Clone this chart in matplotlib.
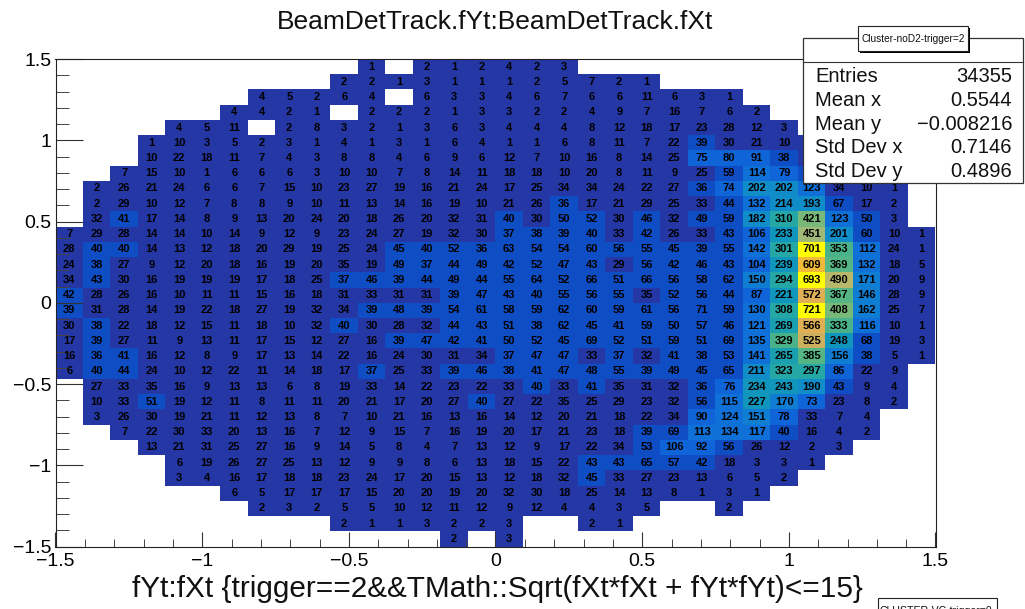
import numpy as np
import matplotlib
matplotlib.use("Agg")
import matplotlib.pyplot as plt
from matplotlib.colors import ListedColormap, BoundaryNorm
from matplotlib.patches import Rectangle

plt.rcParams['font.family'] = ['Liberation Sans', 'DejaVu Sans']

# first filled x bin of each y row (top row first), then the bin contents
first_bin = [11, 10, 7, 6, 4, 3, 3, 2, 1, 1, 1, 0, 0, 0, 0, 0,
             0, 0, 0, 0, 0, 1, 1, 1, 2, 3, 4, 4, 6, 7, 10, 14]
counts = [
    [1, 0, 2, 1, 2, 4, 2, 3],
    [2, 2, 1, 3, 1, 1, 1, 2, 5, 7, 2, 1],
    [4, 5, 2, 6, 4, 0, 6, 3, 3, 4, 6, 7, 6, 6, 11, 6, 3, 1],
    [4, 4, 2, 1, 0, 2, 2, 2, 1, 3, 3, 2, 2, 4, 9, 7, 16, 7, 6, 2],
    [4, 5, 11, 0, 2, 8, 3, 2, 1, 3, 6, 3, 4, 4, 4, 8, 12, 18, 17, 23, 28, 12, 3],
    [1, 10, 3, 5, 2, 3, 1, 4, 1, 3, 1, 6, 4, 1, 1, 6, 8, 11, 7, 22, 39, 30, 21, 10, 5],
    [10, 22, 18, 11, 7, 4, 3, 8, 8, 4, 6, 9, 6, 12, 7, 10, 16, 8, 14, 25, 75, 80, 91, 38, 20],
    [7, 15, 10, 1, 6, 6, 6, 3, 10, 10, 7, 8, 14, 11, 18, 18, 10, 20, 8, 11, 9, 25, 59, 114, 79, 45],
    [2, 26, 21, 24, 6, 6, 7, 15, 10, 23, 27, 19, 16, 21, 24, 17, 25, 34, 34, 24, 22, 27, 36, 74, 202, 202, 123, 34, 10, 1],
    [2, 29, 10, 12, 7, 8, 8, 9, 10, 11, 13, 14, 16, 19, 10, 21, 26, 36, 17, 21, 29, 25, 33, 44, 132, 214, 193, 67, 17, 2],
    [32, 41, 17, 14, 8, 9, 13, 20, 24, 20, 18, 26, 20, 32, 31, 40, 30, 50, 52, 30, 46, 32, 49, 59, 182, 310, 421, 123, 50, 3],
    [7, 29, 28, 14, 14, 10, 14, 9, 12, 9, 23, 24, 27, 19, 32, 30, 37, 38, 39, 40, 33, 42, 26, 33, 43, 106, 233, 451, 201, 60, 10, 1],
    [28, 40, 40, 14, 13, 12, 18, 20, 29, 19, 25, 24, 45, 40, 52, 36, 63, 54, 54, 60, 56, 55, 45, 39, 55, 142, 301, 701, 353, 112, 24, 1],
    [24, 38, 27, 9, 12, 20, 18, 16, 19, 20, 35, 19, 49, 37, 44, 49, 42, 52, 47, 43, 29, 56, 42, 46, 43, 104, 239, 609, 369, 132, 18, 5],
    [34, 43, 30, 16, 19, 19, 19, 17, 18, 25, 37, 46, 39, 44, 49, 44, 55, 64, 52, 66, 51, 66, 56, 58, 62, 150, 294, 693, 490, 171, 20, 9],
    [42, 28, 26, 16, 10, 11, 11, 15, 16, 18, 31, 33, 31, 31, 39, 47, 43, 40, 55, 56, 55, 35, 52, 56, 44, 87, 221, 572, 367, 146, 28, 9],
    [39, 31, 28, 14, 19, 22, 18, 27, 19, 32, 34, 39, 48, 39, 54, 61, 58, 59, 62, 60, 59, 61, 56, 71, 59, 130, 308, 721, 408, 162, 25, 7],
    [30, 38, 22, 18, 12, 15, 11, 18, 10, 32, 40, 30, 28, 32, 44, 43, 51, 38, 62, 45, 41, 59, 50, 57, 46, 121, 269, 566, 333, 116, 10, 1],
    [17, 39, 27, 11, 9, 13, 11, 17, 15, 12, 27, 16, 39, 47, 42, 41, 50, 52, 45, 69, 52, 51, 59, 51, 69, 135, 329, 525, 248, 68, 19, 3],
    [16, 36, 41, 16, 12, 8, 9, 17, 13, 14, 22, 16, 24, 30, 31, 34, 37, 47, 47, 33, 37, 32, 41, 38, 53, 141, 265, 385, 156, 38, 5, 1],
    [6, 40, 44, 24, 10, 12, 22, 11, 14, 18, 17, 37, 25, 33, 39, 46, 38, 41, 47, 48, 55, 39, 49, 45, 65, 211, 323, 297, 86, 22, 9],
    [27, 33, 35, 16, 9, 13, 13, 6, 8, 19, 33, 14, 22, 23, 22, 33, 40, 33, 41, 35, 31, 32, 36, 76, 234, 243, 190, 43, 9, 4],
    [10, 33, 51, 19, 12, 11, 8, 11, 11, 20, 21, 17, 20, 27, 40, 27, 22, 35, 25, 29, 23, 32, 56, 115, 227, 170, 73, 23, 8, 2],
    [3, 26, 30, 19, 21, 11, 12, 13, 8, 7, 10, 21, 16, 13, 16, 14, 12, 20, 21, 18, 22, 34, 90, 124, 151, 78, 33, 7, 4],
    [7, 22, 30, 33, 20, 13, 16, 7, 12, 9, 15, 7, 16, 19, 20, 17, 21, 23, 18, 39, 69, 113, 134, 117, 40, 16, 4, 2],
    [13, 21, 31, 25, 27, 16, 9, 14, 5, 8, 4, 7, 13, 12, 9, 17, 22, 34, 53, 106, 92, 56, 26, 12, 2, 3],
    [6, 19, 26, 27, 25, 13, 12, 9, 9, 8, 6, 13, 18, 15, 22, 43, 43, 65, 57, 42, 18, 3, 3, 1],
    [3, 4, 16, 17, 18, 18, 23, 24, 17, 20, 15, 13, 12, 18, 32, 45, 33, 27, 23, 13, 6, 5, 2],
    [6, 5, 17, 17, 17, 15, 20, 20, 19, 20, 32, 30, 18, 25, 14, 13, 8, 1, 3, 1],
    [2, 3, 2, 5, 5, 10, 12, 11, 12, 9, 12, 4, 4, 3, 5, 0, 0, 2],
    [2, 1, 1, 3, 2, 2, 3, 0, 0, 2, 1],
    [2, 0, 3],
]

stat_names = ['Entries', 'Mean x', 'Mean y', 'Std Dev x', 'Std Dev y']
stat_values = ['34355', '0.5544', '\u22120.008216', '0.7146', '0.4896']

palette = ['#2537a5', '#0f4dc5', '#0f64d8', '#0f70d8', '#0f7dd2', '#108dc8', '#1096bc', '#1a9fb0',
           '#25a8a5', '#4ab28a', '#55b585', '#78b878', '#a0b878', '#b8b86a', '#cdb05e', '#dfaf55',
           '#f0b937', '#f8c828', '#fce010', '#ffff00']
step = 36

W, H = 1025, 609
fig = plt.figure(figsize=(W / 100, H / 100), dpi=100)
L, R, T, B = 55.5, 935.5, 59, 546.5
ax = fig.add_axes([L / W, 1 - B / H, (R - L) / W, (B - T) / H])

grid = np.zeros((32, 32))
for r in range(32):
    grid[r, first_bin[r]:first_bin[r] + len(counts[r])] = counts[r]
grid = grid[::-1]

xedges = np.linspace(-1.5, 1.5, 33)
yedges = np.linspace(-1.5, 1.5, 33)
cmap = ListedColormap(palette)
norm = BoundaryNorm(np.arange(0, step * 21, step), cmap.N, clip=True)
ax.pcolormesh(xedges, yedges, np.ma.masked_equal(grid, 0), cmap=cmap, norm=norm, linewidth=0, rasterized=True)

xc = (xedges[:-1] + xedges[1:]) / 2
yc = (yedges[:-1] + yedges[1:]) / 2
for j in range(32):
    for i in range(32):
        if grid[j, i] > 0:
            ax.text(xc[i], yc[j], str(int(grid[j, i])), ha='center', va='center',
                    fontsize=8, fontweight='bold', color='black')

ax.set_xlim(-1.5, 1.5)
ax.set_ylim(-1.5, 1.5)
ax.set_xticks(np.arange(-1.5, 1.51, 0.5))
ax.set_xticks(np.arange(-1.5, 1.51, 0.1), minor=True)
ax.set_yticks(np.arange(-1.5, 1.51, 0.5))
ax.set_yticks(np.arange(-1.5, 1.51, 0.1), minor=True)
ax.set_xticklabels(['\u22121.5', '\u22121', '\u22120.5', '0', '0.5', '1', '1.5'], fontsize=14)
ax.set_yticklabels(['\u22121.5', '\u22121', '\u22120.5', '0', '0.5', '1', '1.5'], fontsize=14)
ax.tick_params(axis='x', which='major', direction='in', length=11, width=0.8, pad=4.5, color='#333333')
ax.tick_params(axis='x', which='minor', direction='in', length=5.5, width=0.7, color='#444444')
ax.tick_params(axis='y', which='major', direction='in', length=19.5, width=0.8, pad=3, color='#333333')
ax.tick_params(axis='y', which='minor', direction='in', length=9.5, width=0.7, color='#444444')
for s in ax.spines.values():
    s.set_linewidth(0.8)
    s.set_color('#222222')

# overlay in pixel coordinates for the ROOT title, xlabel and stats box
ov = fig.add_axes([0, 0, 1, 1], zorder=5)
ov.set_xlim(0, W)
ov.set_ylim(H, 0)
ov.axis('off')
ov.text(495, 22, 'BeamDetTrack.fYt:BeamDetTrack.fXt', ha='center', va='center', fontsize=19, color='#111111')
ov.text(497.5, 589, 'fYt:fXt {trigger==2&&TMath::Sqrt(fXt*fXt + fYt*fYt)<=15}', ha='center', va='center',
        fontsize=21.4, color='#111111')

ov.add_patch(Rectangle((803, 38), 220, 145, fc='white', ec='#333333', lw=0.9))
ov.plot([803, 1023], [62, 62], color='#333333', lw=0.8)
ov.add_patch(Rectangle((860, 28), 110, 25, fc='black', ec='black', lw=0))
ov.add_patch(Rectangle((858, 26), 110, 25, fc='white', ec='#222222', lw=0.8))
ov.text(913, 38.5, 'Cluster-noD2-trigger=2', ha='center', va='center', fontsize=7.3, color='#111111')

for k in range(len(stat_names)):
    y = 82 + k * 23.8
    ov.text(815, y, stat_names[k], ha='left', va='baseline', fontsize=14.5, color='#111111')
    ov.text(1012, y, stat_values[k], ha='right', va='baseline', fontsize=14.5, color='#111111')

# next pad's title box, cut off by the bottom of the picture
ov.add_patch(Rectangle((878, 598), 119, 25, fc='white', ec='#222222', lw=0.8))
ov.text(936, 606.5, 'CLUSTER-VC-trigger=0', ha='center', va='top', fontsize=7.6, color='#111111')

fig.savefig('out.png', dpi=100, facecolor='white')
